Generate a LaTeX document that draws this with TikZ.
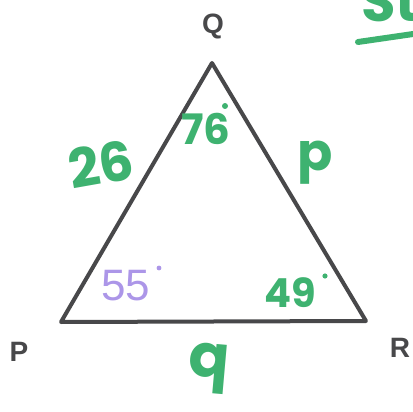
\documentclass[tikz,border=0pt]{standalone}
\usepackage{fontspec}
\setmainfont{Liberation Sans}
\newfontfamily\handfont{Poppins}
\definecolor{marker}{RGB}{62,178,112}
\definecolor{lilac}{RGB}{172,150,232}
\definecolor{ink}{RGB}{72,72,74}

\begin{document}
\begin{tikzpicture}[x=1pt,y=-1pt,
  vertex/.style={ink,font=\fontsize{28}{28}\selectfont\bfseries},
  green/.style={marker,font=\handfont\bfseries\fontsize{#1}{#1}\selectfont},
  green/.default=56]
  \useasboundingbox (0,0) rectangle (413,412);
  \clip (0,0) rectangle (413,412);

  \coordinate (P) at (61,322);
  \coordinate (Q) at (212,63);
  \coordinate (R) at (366,321);
  \draw[ink,line width=4pt,line join=round] (P) -- (Q) -- (R) -- cycle;

  \node[vertex] (lblQ) at (213,26) {Q};
  \node[vertex] (lblP) at (19,352) {P};
  \node[vertex] (lblR) at (400,348) {R};

  % sides
  \node[green=54,rotate=10,inner sep=0pt] (sideQP) at (101,164) {26};
  \node[green=52] (sideQR) at (315,163) {p};
  \node[green=60,rotate=-5] (sidePR) at (209,368) {q};

  % angles
  \node[green=42] (angQ) at (206,129) {76};
  \fill[marker] (225,106) circle (3pt);
  \node[lilac,font=\fontsize{44}{44}\selectfont] (angP) at (126,286) {55};
  \fill[lilac] (159,268) circle (2.4pt);
  \node[green=40] (angR) at (290,293) {49};
  \fill[marker] (325,276) circle (2.6pt);

  % corner note
  \node[green=56] (note) at (390,2) {St};
  \draw[marker,line width=6pt,line cap=round] (358,42) -- (420,33);
\end{tikzpicture}
\end{document}
